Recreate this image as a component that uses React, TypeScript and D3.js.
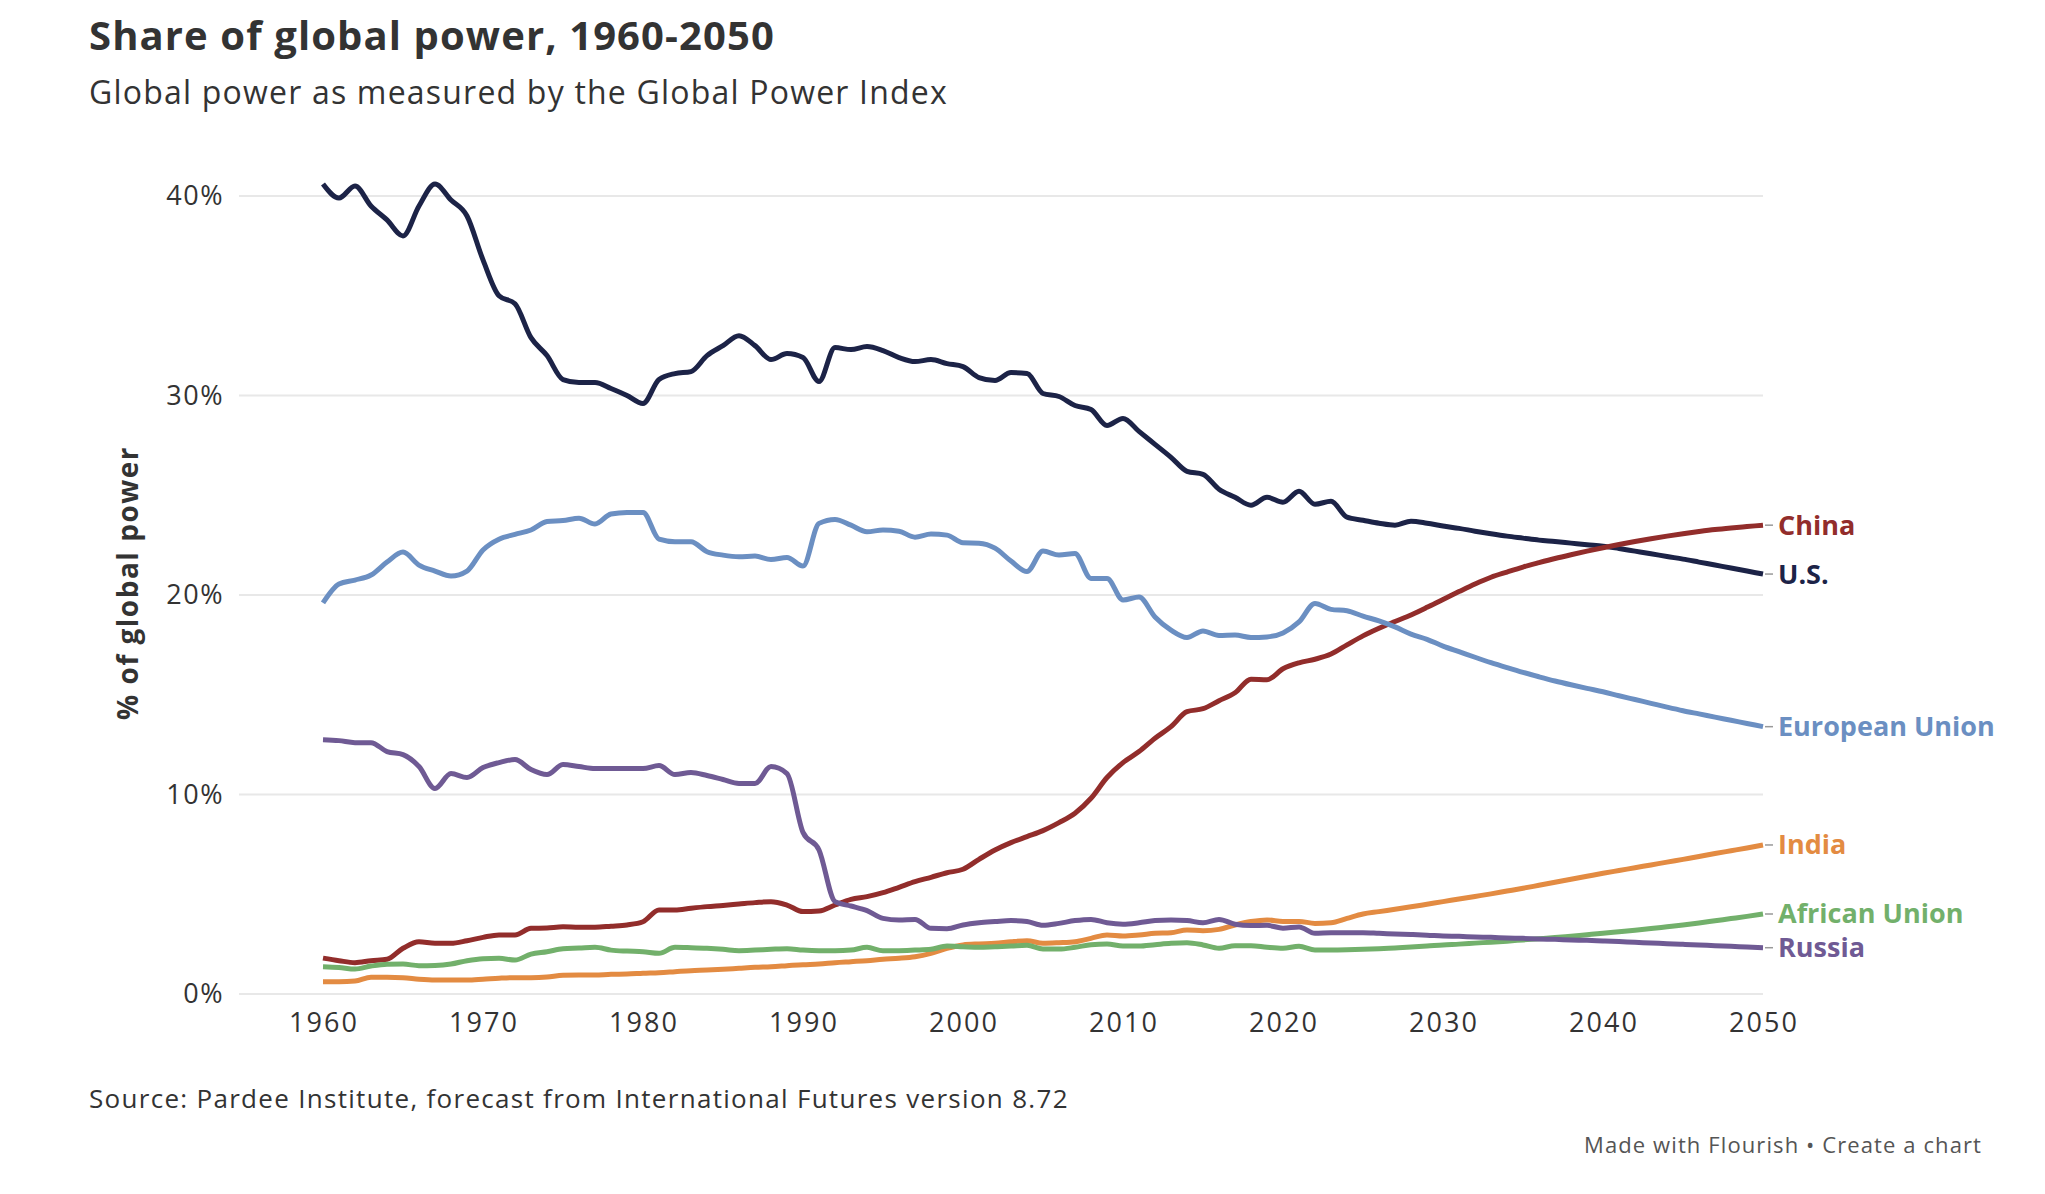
import React from "react";
import * as d3 from "d3";

const years = d3.range(1960, 2051);

const usValues = [
  40.6, 39.9, 40.5, 39.5, 38.8, 38.0, 39.5, 40.6, 39.8, 39.0,
  36.8, 35.0, 34.6, 32.9, 32.0, 30.8, 30.65, 30.65, 30.35, 30.0,
  29.6, 30.8, 31.1, 31.2, 32.0, 32.5, 33.0, 32.5, 31.8, 32.1,
  31.9, 30.7, 32.4, 32.3, 32.45, 32.25, 31.9, 31.7, 31.8, 31.6,
  31.45, 30.9, 30.75, 31.15, 31.1, 30.1, 29.95, 29.5, 29.3, 28.5,
  28.85, 28.2, 27.55, 26.9, 26.2, 26.05, 25.3, 24.9, 24.5, 24.9,
  24.65, 25.2, 24.55, 24.7, 23.9, 23.75, 23.6, 23.5, 23.7, 23.6,
  23.46, 23.34, 23.2, 23.07, 22.95, 22.85, 22.75, 22.68, 22.6, 22.52,
  22.45, 22.33, 22.2, 22.07, 21.93, 21.8, 21.65, 21.5, 21.35, 21.2,
  21.05,
];

const euValues = [
  19.6, 20.55, 20.75, 21.0, 21.65, 22.15, 21.5, 21.2, 20.95, 21.2,
  22.26, 22.8, 23.04, 23.26, 23.68, 23.73, 23.85, 23.56, 24.06, 24.14,
  24.14, 22.8, 22.67, 22.67, 22.17, 22.0, 21.92, 21.95, 21.78, 21.88,
  21.45, 23.59, 23.79, 23.5, 23.17, 23.26, 23.2, 22.9, 23.06, 23.0,
  22.62, 22.6, 22.35, 21.7, 21.18, 22.2, 22.0, 22.08, 20.83, 20.83,
  19.75, 19.9, 18.9, 18.24, 17.87, 18.2, 17.97, 17.99, 17.87, 17.9,
  18.1, 18.65, 19.58, 19.28, 19.21, 18.94, 18.7, 18.4, 18.04, 17.78,
  17.44, 17.16, 16.88, 16.61, 16.36, 16.12, 15.9, 15.69, 15.5, 15.32,
  15.15, 14.95, 14.76, 14.57, 14.38, 14.2, 14.04, 13.88, 13.72, 13.56,
  13.4,
];

const chinaValues = [
  1.8, 1.67, 1.57, 1.67, 1.74, 2.29, 2.62, 2.54, 2.54, 2.67,
  2.84, 2.96, 2.96, 3.29, 3.31, 3.37, 3.35, 3.35, 3.4, 3.46,
  3.62, 4.21, 4.21, 4.3, 4.38, 4.44, 4.51, 4.58, 4.63, 4.46,
  4.13, 4.16, 4.46, 4.74, 4.88, 5.08, 5.35, 5.63, 5.85, 6.08,
  6.25, 6.75, 7.22, 7.59, 7.89, 8.19, 8.59, 9.06, 9.81, 10.85,
  11.6, 12.15, 12.82, 13.4, 14.15, 14.3, 14.7, 15.1, 15.78, 15.75,
  16.3, 16.6, 16.78, 17.04, 17.5, 17.95, 18.33, 18.67, 19.0, 19.38,
  19.78, 20.17, 20.55, 20.89, 21.15, 21.4, 21.62, 21.83, 22.02, 22.2,
  22.37, 22.53, 22.68, 22.82, 22.95, 23.07, 23.18, 23.28, 23.36, 23.43,
  23.5,
];

const russiaValues = [
  12.75, 12.7, 12.6, 12.6, 12.15, 12.0, 11.4, 10.3, 11.05, 10.85,
  11.35, 11.6, 11.75, 11.25, 11.0, 11.5, 11.4, 11.3, 11.3, 11.3,
  11.3, 11.45, 11.0, 11.1, 10.95, 10.75, 10.55, 10.55, 11.4, 11.05,
  8.1, 7.22, 4.63, 4.41, 4.18, 3.79, 3.71, 3.74, 3.29, 3.27,
  3.46, 3.57, 3.63, 3.68, 3.63, 3.44, 3.54, 3.68, 3.74, 3.57,
  3.5, 3.57, 3.68, 3.71, 3.68, 3.57, 3.74, 3.5, 3.43, 3.44,
  3.3, 3.36, 3.04, 3.07, 3.07, 3.07, 3.04, 3.01, 2.98, 2.95,
  2.91, 2.89, 2.86, 2.84, 2.81, 2.79, 2.76, 2.74, 2.71, 2.69,
  2.66, 2.63, 2.59, 2.56, 2.52, 2.49, 2.46, 2.42, 2.39, 2.35,
  2.32,
];

const indiaValues = [
  0.62, 0.62, 0.65, 0.84, 0.84, 0.82, 0.74, 0.7, 0.7, 0.7,
  0.74, 0.79, 0.82, 0.82, 0.85, 0.94, 0.95, 0.95, 0.99, 1.0,
  1.04, 1.07, 1.12, 1.17, 1.2, 1.24, 1.29, 1.34, 1.37, 1.42,
  1.47, 1.5, 1.57, 1.62, 1.67, 1.74, 1.79, 1.87, 2.04, 2.29,
  2.46, 2.51, 2.54, 2.62, 2.67, 2.54, 2.57, 2.62, 2.79, 2.96,
  2.91, 2.96, 3.04, 3.07, 3.21, 3.17, 3.24, 3.46, 3.63, 3.71,
  3.64, 3.64, 3.54, 3.57, 3.79, 4.01, 4.13, 4.25, 4.37, 4.5,
  4.63, 4.76, 4.89, 5.02, 5.16, 5.3, 5.45, 5.6, 5.75, 5.9,
  6.05, 6.19, 6.33, 6.47, 6.61, 6.75, 6.89, 7.04, 7.18, 7.32,
  7.47,
];

const africanUnionValues = [
  1.37, 1.33, 1.25, 1.4, 1.49, 1.5, 1.42, 1.43, 1.5, 1.67,
  1.77, 1.79, 1.7, 2.0, 2.12, 2.27, 2.3, 2.34, 2.2, 2.15,
  2.12, 2.04, 2.34, 2.32, 2.29, 2.24, 2.17, 2.2, 2.24, 2.27,
  2.2, 2.17, 2.17, 2.2, 2.34, 2.17, 2.17, 2.2, 2.24, 2.4,
  2.37, 2.34, 2.37, 2.4, 2.44, 2.25, 2.25, 2.34, 2.47, 2.51,
  2.4, 2.4, 2.47, 2.54, 2.57, 2.46, 2.29, 2.42, 2.42, 2.34,
  2.29, 2.39, 2.21, 2.21, 2.22, 2.24, 2.27, 2.31, 2.35, 2.4,
  2.46, 2.5, 2.55, 2.6, 2.65, 2.71, 2.77, 2.83, 2.9, 2.97,
  3.04, 3.12, 3.2, 3.28, 3.37, 3.46, 3.56, 3.67, 3.78, 3.89,
  4.01,
];

const seriesNames = ["U.S.", "China", "European Union", "India", "African Union", "Russia"];
const seriesColors = ["#1c2347", "#922d2b", "#6b8fc2", "#e38b42", "#72b06b", "#6f5a94"];
const seriesValues = [usValues, chinaValues, euValues, indiaValues, africanUnionValues, russiaValues];

const yTicks = [0, 10, 20, 30, 40];
const xTicks = [1960, 1970, 1980, 1990, 2000, 2010, 2020, 2030, 2040, 2050];

const FONT = "'Open Sans', 'Noto Sans', sans-serif";

export default function App() {
  const width = 2045;
  const height = 1194;

  const x = d3.scaleLinear().domain([1960, 2050]).range([323, 1763]);
  const y = d3.scaleLinear().domain([0, 40]).range([994, 196]);

  const line = d3
    .line<[number, number]>()
    .x((d) => x(d[0]))
    .y((d) => y(d[1]))
    .curve(d3.curveMonotoneX);

  return (
    <div style={{ position: "absolute", left: 0, top: 0, background: "#fff" }}>
      <svg width={width} height={height} style={{ display: "block", fontFamily: FONT }}>
        <rect width={width} height={height} fill="#fff" />

        <text x={89} y={50} fontSize={40} fontWeight={700} fill="#333" letterSpacing={1.1}>
          Share of global power, 1960-2050
        </text>
        <text x={89} y={104} fontSize={32} fill="#333" letterSpacing={1.2}>
          Global power as measured by the Global Power Index
        </text>

        {yTicks.map((t) => (
          <g key={t}>
            <line x1={239} x2={1763} y1={y(t)} y2={y(t)} stroke="#e8e8e8" strokeWidth={2} />
            <text x={224} y={y(t)} dy="0.35em" textAnchor="end" fontSize={27} fill="#333" letterSpacing={1.5}>
              {t}%
            </text>
          </g>
        ))}

        {xTicks.map((t) => (
          <text key={t} x={x(t) + 1} y={1032} textAnchor="middle" fontSize={27} fill="#333" letterSpacing={2}>
            {t}
          </text>
        ))}

        <text
          transform="translate(127, 583) rotate(-90)"
          textAnchor="middle"
          dominantBaseline="central"
          fontSize={28}
          fontWeight={700}
          fill="#333"
          letterSpacing={1.5}
        >
          % of global power
        </text>

        {seriesValues.map((vals, i) => {
          const pts = years.map((yr, j) => [yr, vals[j]] as [number, number]);
          return (
            <path
              key={seriesNames[i]}
              d={line(pts) || ""}
              fill="none"
              stroke={seriesColors[i]}
              strokeWidth={5}
              strokeLinejoin="round"
              strokeLinecap="butt"
            />
          );
        })}

        {seriesValues.map((vals, i) => {
          const endY = y(vals[vals.length - 1]);
          return (
            <g key={seriesNames[i]}>
              <line x1={1765} x2={1773} y1={endY} y2={endY} stroke="#999" strokeWidth={1.5} />
              <text x={1778} y={endY} dy="0.35em" fontSize={27} fontWeight={700} fill={seriesColors[i]}>
                {seriesNames[i]}
              </text>
            </g>
          );
        })}

        <text x={89} y={1108} fontSize={26} fill="#333" letterSpacing={1.3}>
          Source: Pardee Institute, forecast from International Futures version 8.72
        </text>
        <text x={1982} y={1153} textAnchor="end" fontSize={22} fill="#555" letterSpacing={1.1}>
          Made with Flourish • Create a chart
        </text>
      </svg>
    </div>
  );
}
